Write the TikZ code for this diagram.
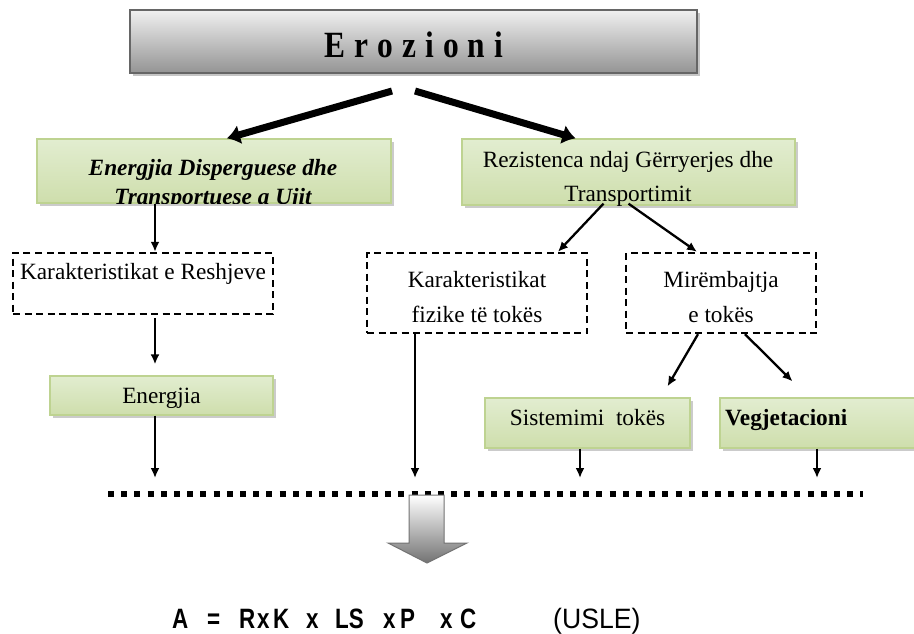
\documentclass[tikz,border=0pt]{standalone}
\usepackage{fontspec}
\setmainfont{Liberation Serif}
\newfontfamily\formulafont[FakeStretch=0.8]{Liberation Sans}
\newfontfamily\uslefont[FakeStretch=0.95]{Liberation Sans}
\usetikzlibrary{shadows,arrows.meta}
\definecolor{gborder}{RGB}{190,211,145}
\definecolor{gbottom}{RGB}{206,222,172}
\definecolor{gtop}{RGB}{226,237,208}
\begin{document}
\begin{tikzpicture}[x=1pt,y=-1pt,
  boxtext/.style={font=\fontsize{23.3}{27}\selectfont},
  greenbox/.style={draw=gborder, line width=1.3pt, top color=gtop, middle color=white, bottom color=gbottom,
    drop shadow={shadow xshift=3pt, shadow yshift=-3pt, fill=black!40}, inner sep=0pt},
  graybox/.style={draw=black!60, line width=2pt, top color=black!6, bottom color=black!42,
    drop shadow={shadow xshift=3pt, shadow yshift=-3pt, fill=black!45}, inner sep=0pt},
  dashbox/.style={draw=black, line width=2.4pt, dash pattern=on 7pt off 4.5pt, inner sep=0pt},
  thinarrow/.style={line width=2.3pt, -{Latex[length=10pt,width=9pt]}},
  thickarrow/.style={line width=7pt, -{Latex[length=13pt,width=20pt]}}
]
\clip (0,0) rectangle (914,633);
\fill[white] (0,0) rectangle (914,633);

% title
\node[graybox, minimum width=567pt, minimum height=63pt] (ero) at (413.5,41.5) {};
\node[font=\fontsize{37}{37}\selectfont\bfseries, inner sep=0pt] (erot) at (414,45)
  {\scalebox{0.85}[1.0]{E\hspace{10.6pt}r\hspace{10.6pt}o\hspace{10.6pt}z\hspace{10.6pt}i\hspace{10.6pt}o\hspace{10.6pt}n\hspace{10.6pt}i}};

% second level
\node[greenbox, minimum width=354pt, minimum height=64pt] (en) at (214,171) {};
\node[greenbox, minimum width=333pt, minimum height=66pt] (rez) at (628.5,172) {};
\node[boxtext, anchor=base, font=\fontsize{23.3}{27}\selectfont\bfseries\itshape] (ent1) at (213,175) {Energjia Disperguese dhe};
\node[boxtext, anchor=base] (rezt1) at (628,167) {Rezistenca ndaj Gërryerjes dhe};
\begin{scope}
  \clip (en.north west) rectangle (en.south east);
  \node[boxtext, anchor=base, font=\fontsize{23.3}{27}\selectfont\bfseries\itshape] (ent2) at (213,204) {Transportuese a Ujit};
\end{scope}
\begin{scope}
  \clip (rez.north west) rectangle (rez.south east);
  \node[boxtext, anchor=base] (rezt2) at (628,201) {Transportimit};
\end{scope}

% dashed boxes
\node[dashbox, minimum width=260pt, minimum height=61pt] (resh) at (143,283.5) {};
\node[boxtext, anchor=base] (resht) at (143,279) {Karakteristikat e Reshjeve};
\node[dashbox, minimum width=220pt, minimum height=80pt] (fiz) at (477,293) {};
\node[boxtext, anchor=base] (fizt1) at (477,287) {Karakteristikat};
\node[boxtext, anchor=base] (fizt2) at (477,322) {fizike të tokës};
\node[dashbox, minimum width=190pt, minimum height=80pt] (mir) at (721,293) {};
\node[boxtext, anchor=base] (mirt1) at (721,287) {Mirëmbajtja};
\node[boxtext, anchor=base] (mirt2) at (721,322) {e tokës};

% lower green boxes
\node[greenbox, minimum width=223pt, minimum height=39pt] (enr) at (161.5,395.5) {};
\node[boxtext, anchor=base] (enrt) at (161.5,403) {Energjia};
\node[greenbox, minimum width=205pt, minimum height=50pt] (sis) at (587.5,423) {};
\node[boxtext, anchor=base] (sist) at (587.5,425) {Sistemimi\ \ tokës};
\node[greenbox, minimum width=215pt, minimum height=50pt] (veg) at (827.5,423) {};
\node[boxtext, anchor=base west, inner sep=0pt, font=\fontsize{23.3}{27}\selectfont\bfseries] (vegt) at (725,425) {Vegjetacioni};

% dotted collector line
\coordinate (dl) at (108,494);
\coordinate (dr) at (863,494);
\draw[line width=6pt, dash pattern=on 6pt off 7.2pt] (dl) -- (dr);
\coordinate (c1) at (155,478);
\coordinate (c2) at (415,478);
\coordinate (c3) at (580,478);
\coordinate (c4) at (817,478);

% top thick arrows
\coordinate (tl) at (392,91);
\coordinate (tr) at (415,91);
\draw[thickarrow] (tl) -- ([xshift=13pt]en.north);
\draw[thickarrow] (tr) -- ([xshift=-53pt]rez.north);

% thin arrows
\draw[thinarrow] (en.south -| c1) -- (resh.north -| c1);
\draw[thinarrow] ([yshift=-3pt]resh.south -| c1) -- ([yshift=11pt]enr.north -| c1);
\draw[thinarrow] (enr.south -| c1) -- (c1);
\draw[thinarrow] ([xshift=-25pt,yshift=2pt]rez.south) -- ([xshift=81pt]fiz.north);
\draw[thinarrow] ([yshift=2pt]rez.south) -- ([xshift=-24pt]mir.north);
\draw[thinarrow] (fiz.south -| c2) -- (c2);
\draw[thinarrow] ([xshift=-23pt]mir.south) -- ([xshift=80pt,yshift=11pt]sis.north);
\draw[thinarrow] ([xshift=24pt]mir.south) -- ([xshift=-35pt,yshift=16pt]veg.north);
\draw[thinarrow] (sis.south -| c3) -- (c3);
\draw[thinarrow] (veg.south -| c4) -- (c4);

% big hollow arrow
\draw[draw=black!55, line width=1pt, top color=white, bottom color=black!55]
  (409,495) -- (444,495) -- (444,543) -- (467,543) -- (427,563) -- (388,543) -- (409,543) -- cycle;

% formula
\node[anchor=base west, inner sep=0pt, font=\formulafont\fontsize{28}{30}\selectfont\bfseries] (form) at (172,628)
  {\makebox[35pt][l]{A}\makebox[32pt][l]{=}\makebox[18pt][l]{R}\makebox[16pt][l]{x}\makebox[33pt][l]{K}\makebox[29pt][l]{x}\makebox[48pt][l]{LS}\makebox[17pt][l]{x}\makebox[40pt][l]{P}\makebox[20pt][l]{x}C};
\node[anchor=base west, inner sep=0pt, font=\uslefont\fontsize{28}{30}\selectfont] (usle) at (553,628) {(USLE)};
\end{tikzpicture}
\end{document}
